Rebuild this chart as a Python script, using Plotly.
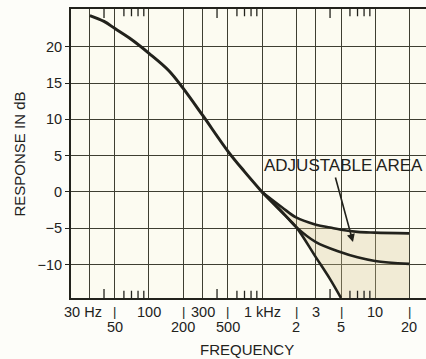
import math
import plotly.graph_objects as go

# Response curve (frequency in Hz, response in dB)
main_freq = [30, 40, 50, 70, 100, 150, 200, 300, 500, 700, 1000]
main_db = [24.3, 23.5, 22.5, 21.0, 19.1, 16.7, 14.3, 10.5, 5.6, 2.8, 0.0]

# The three treble branches after 1 kHz
top_freq = [1000, 1500, 2000, 3000, 4000, 5000, 7000, 10000, 20000]
top_db = [0.0, -2.1, -3.5, -4.5, -4.9, -5.2, -5.5, -5.6, -5.7]

mid_freq = [1000, 1500, 2000, 3000, 5000, 7000, 10000, 20000]
mid_db = [0.0, -2.7, -4.8, -6.9, -8.3, -9.0, -9.5, -9.9]

low_freq = [1000, 1500, 2000, 3000, 4000, 5000]
low_db = [0.0, -2.8, -4.8, -9.0, -12.0, -14.6]

# Axis furniture
grid_freq = [30, 50, 100, 200, 300, 500, 1000, 2000, 3000, 5000, 10000, 20000]
minor_freq = [40, 60, 70, 80, 90, 400, 600, 700, 800, 900, 4000, 6000, 7000, 8000, 9000]
db_ticks = [-10, -5, 0, 5, 10, 15, 20]

upper_freq = [30, 100, 300, 1000, 3000, 10000]
upper_text = ["30 Hz", "100", "300", "1 kHz", "3", "10"]
lower_freq = [50, 200, 500, 2000, 5000, 20000]
lower_text = ["50", "200", "500", "2", "5", "20"]

x_range = [1.31, 4.451]
y_range = [-14.6, 25.2]

ink = "#22221c"
grid = "#3e3e32"

fig = go.Figure()

# Shaded "adjustable area" between the top and bottom branches
fill_x = top_freq + [top_freq[-1]] + low_freq[::-1]
fill_y = top_db + [y_range[0]] + low_db[::-1]
fig.add_trace(go.Scatter(x=fill_x, y=fill_y, mode="lines", fill="toself",
                         fillcolor="rgba(214,200,150,0.30)", line=dict(width=0),
                         hoverinfo="skip"))

# Inward minor ticks on the top and bottom frame
tx, ty = [], []
for f in minor_freq:
    ln = 1.25 if f in (40, 400, 4000) else 1.0
    tx += [f, f, None, f, f, None]
    ty += [y_range[0], y_range[0] + ln, None, y_range[1], y_range[1] - ln, None]
fig.add_trace(go.Scatter(x=tx, y=ty, mode="lines", line=dict(color=ink, width=1.3),
                         hoverinfo="skip"))

# Curves
fig.add_trace(go.Scatter(x=main_freq, y=main_db, mode="lines",
                         line=dict(color=ink, width=3, shape="spline")))
for fx, fy in [(top_freq, top_db), (mid_freq, mid_db), (low_freq, low_db)]:
    fig.add_trace(go.Scatter(x=fx, y=fy, mode="lines",
                             line=dict(color=ink, width=2.6, shape="spline")))

annotations = []
for f, t in zip(upper_freq, upper_text):
    annotations.append(dict(x=math.log10(f), y=-0.048, xref="x", yref="paper", text=t,
                            showarrow=False, xanchor="center", yanchor="middle",
                            xshift=-7 if f == 30 else 0, font=dict(size=14.5)))
for f, t in zip(lower_freq, lower_text):
    annotations.append(dict(x=math.log10(f), y=-0.1, xref="x", yref="paper", text=t,
                            showarrow=False, xanchor="center", yanchor="middle",
                            font=dict(size=14.5)))
    # little leader bar above each lower label
    annotations.append(dict(x=math.log10(f), y=-0.045, xref="x", yref="paper", text="|",
                            showarrow=False, xanchor="center", yanchor="middle",
                            font=dict(size=13)))

annotations.append(dict(x=0.497, y=-0.178, xref="paper", yref="paper", text="FREQUENCY",
                        showarrow=False, xanchor="center", yanchor="middle",
                        font=dict(size=15)))
annotations.append(dict(x=-0.1437, y=0.5, xref="paper", yref="paper", text="RESPONSE IN dB",
                        showarrow=False, textangle=-90, xanchor="center", yanchor="middle",
                        font=dict(size=15)))
annotations.append(dict(x=3.721, y=3.6, xref="x", yref="y", text="ADJUSTABLE AREA",
                        showarrow=False, font=dict(size=17)))
annotations.append(dict(x=3.805, y=-6.9, xref="x", yref="y", ax=3.646, ay=2.2,
                        axref="x", ayref="y", text="", showarrow=True, arrowhead=2,
                        arrowsize=1, arrowwidth=1.6, arrowcolor=ink))

fig.update_layout(
    width=426, height=359,
    margin=dict(l=71, r=0, t=9, b=61),
    paper_bgcolor="#fdfdf9",
    plot_bgcolor="#fcfbf1",
    showlegend=False,
    font=dict(family="Liberation Sans, Arial, sans-serif", size=13, color=ink),
    annotations=annotations,
    xaxis=dict(type="log", range=x_range, tickvals=grid_freq, showticklabels=False,
               ticks="", showgrid=True, gridcolor=grid, gridwidth=1.3,
               showline=True, linecolor=ink, linewidth=2, mirror=True, zeroline=False),
    yaxis=dict(range=y_range, tickvals=db_ticks, ticks="outside", ticklen=4,
               tickcolor=ink, tickwidth=1.3, showgrid=True, gridcolor=grid, gridwidth=1.3,
               showline=True, linecolor=ink, linewidth=2, zeroline=False,
               tickfont=dict(size=14.5)),
)

# drop the default page margin so the figure sits at the window corner
fig.write_html("out.html", config={"displayModeBar": False},
               post_script="document.body.style.margin='0';document.body.style.overflow='hidden';")
